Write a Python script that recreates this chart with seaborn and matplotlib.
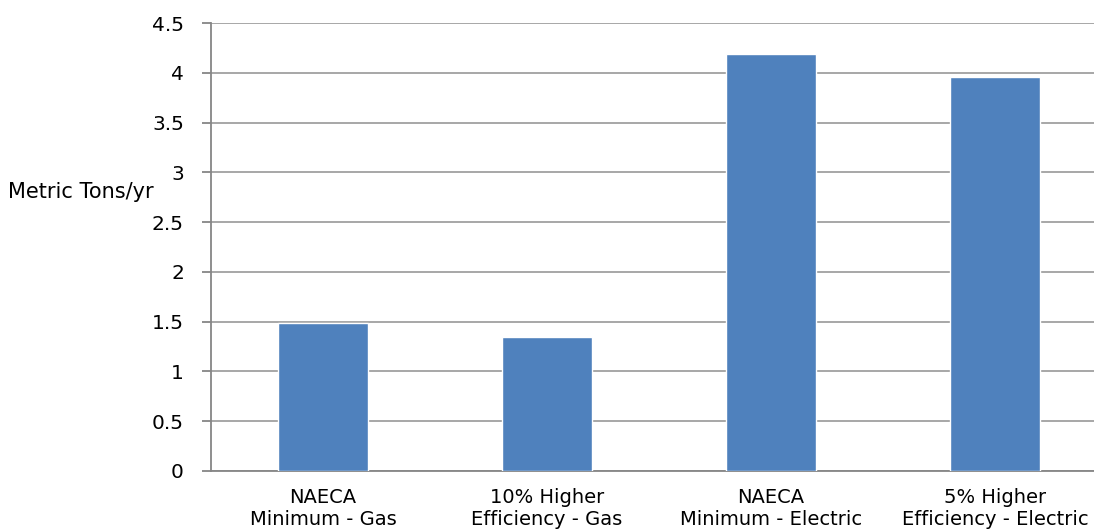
import matplotlib
matplotlib.use("Agg")
import matplotlib.pyplot as plt
import seaborn as sns
import pandas as pd

# Annual CO2 emissions by water-heater option
categories = [
    "NAECA\nMinimum - Gas",
    "10% Higher\nEfficiency - Gas",
    "NAECA\nMinimum - Electric",
    "5% Higher\nEfficiency - Electric",
]
emissions = [1.49, 1.345, 4.19, 3.96]
y_ticks = [0, 0.5, 1, 1.5, 2, 2.5, 3, 3.5, 4, 4.5]
y_tick_labels = ["0", "0.5", "1", "1.5", "2", "2.5", "3", "3.5", "4", "4.5"]

sns.set_theme(style="white")
plt.rcParams["font.family"] = ["DejaVu Sans"]

df = pd.DataFrame({"category": categories, "tons": emissions})

fig = plt.figure(figsize=(10.94, 5.29), dpi=100)
ax = fig.add_axes([211 / 1094, 58 / 529, 896 / 1094, 448 / 529])

sns.barplot(data=df, x="category", y="tons", color="#4F81BD", saturation=1,
            width=0.4, ax=ax, zorder=3)

ax.set_xlim(-0.5, 3.5)
ax.set_ylim(0, 4.5)
ax.set_yticks(y_ticks)
ax.set_yticklabels(y_tick_labels)

grid_color = "#a0a0a0"
ax.yaxis.grid(True, color=grid_color, linewidth=1.3, zorder=0)
ax.xaxis.grid(False)
for side in ["top", "right"]:
    ax.spines[side].set_visible(False)
ax.spines["left"].set_color("#868686")
ax.spines["left"].set_linewidth(1.3)
ax.spines["bottom"].set_color("#868686")
ax.spines["bottom"].set_linewidth(1.3)

ax.tick_params(axis="y", which="major", left=True, length=6.5, width=1.3,
               color="#868686", pad=13, labelsize=14.5, labelcolor="black")
ax.tick_params(axis="x", which="major", bottom=False, pad=6, labelsize=14,
               labelcolor="black")
for lbl in ax.get_xticklabels():
    lbl.set_linespacing(1.2)

ax.set_xlabel("")
ax.set_ylabel("")
fig.text(8 / 1094, 331 / 529, "Metric Tons/yr", fontsize=15, ha="left",
         va="baseline", color="black")

fig.savefig("out.png", dpi=100, facecolor="white")
